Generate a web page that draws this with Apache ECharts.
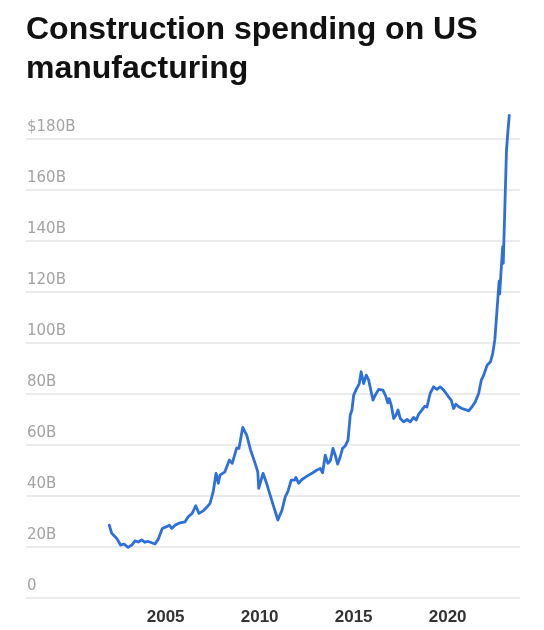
<!DOCTYPE html>
<html>
<head>
<meta charset="utf-8">
<script src="https://cdn.jsdelivr.net/npm/echarts@6/dist/echarts.min.js"></script>
<style>
html,body{margin:0;padding:0;background:#fff;}
#chart{width:544px;height:630px;}
</style>
</head>
<body>
<div id="chart"></div>
<script>
const titleText = 'Construction spending on US\nmanufacturing';
const years = [2002.0,2002.13,2002.4,2002.6,2002.78,2003.0,2003.2,2003.37,2003.55,2003.72,2003.9,2004.07,2004.26,2004.43,2004.6,2004.82,2005.05,2005.2,2005.32,2005.5,2005.76,2006.03,2006.2,2006.41,2006.6,2006.77,2007.0,2007.21,2007.36,2007.53,2007.68,2007.74,2007.8,2007.89,2008.15,2008.39,2008.54,2008.78,2008.9,2009.1,2009.31,2009.52,2009.76,2009.9,2009.95,2010.18,2010.37,2010.64,2010.97,2011.19,2011.36,2011.5,2011.68,2011.86,2011.93,2012.07,2012.25,2012.52,2012.78,2013.05,2013.23,2013.35,2013.49,2013.63,2013.76,2013.9,2014.02,2014.15,2014.29,2014.41,2014.55,2014.7,2014.82,2014.91,2015.0,2015.12,2015.3,2015.4,2015.53,2015.67,2015.8,2016.03,2016.15,2016.33,2016.56,2016.72,2016.82,2016.89,2017.0,2017.13,2017.25,2017.36,2017.48,2017.66,2017.84,2018.01,2018.19,2018.33,2018.46,2018.63,2018.78,2018.9,2019.07,2019.25,2019.43,2019.6,2019.79,2019.88,2020.05,2020.19,2020.32,2020.44,2020.59,2020.76,2020.94,2021.12,2021.3,2021.47,2021.65,2021.79,2021.92,2022.1,2022.28,2022.4,2022.51,2022.6,2022.68,2022.74,2022.77,2022.86,2022.93,2022.96,2023.06,2023.13,2023.2,2023.28];
const values = [28.4,25.2,23.2,20.6,21.0,19.7,20.6,22.2,21.8,22.6,21.7,22.0,21.5,21.0,22.8,27.1,27.8,28.4,27.1,28.4,29.3,29.7,31.7,33.0,36.0,33.0,34.0,35.6,36.9,41.5,48.7,49.3,44.8,48.0,49.3,53.9,52.6,58.7,58.5,66.7,63.7,57.8,52.6,49.3,42.8,48.7,44.8,38.2,30.4,34.3,39.5,41.5,46.0,46.0,47.1,44.8,46.3,47.6,48.7,50.0,50.6,48.9,55.8,52.6,53.6,58.5,55.8,52.3,55.2,58.5,59.4,61.7,71.5,73.5,79.3,81.3,83.9,88.5,83.9,87.2,85.2,77.4,79.3,81.6,81.3,78.7,76.3,78.0,75.4,70.2,71.5,73.5,70.2,68.9,69.8,68.9,70.6,69.6,71.9,73.5,75.0,74.7,80.0,82.6,81.6,82.6,81.3,81.6,78.7,77.4,74.1,75.8,74.8,74.1,73.7,73.2,74.8,76.7,80.0,85.2,87.2,91.1,92.4,95.7,101.0,110.0,118.0,124.0,119.0,130.0,137.5,131.0,157.0,175.0,182.0,189.0];
const xTickYears = [2005, 2010, 2015, 2020];
const yTickLabels = ['0','20B','40B','60B','80B','100B','120B','140B','160B','$180B'];

const chart = echarts.init(document.getElementById('chart'), null, {renderer: 'canvas'});
const seriesData = years.map((y, i) => [y, values[i]]);
chart.setOption({
  backgroundColor: '#ffffff',
  animation: false,
  title: {
    text: titleText,
    left: 21,
    top: 6,
    textStyle: {
      fontFamily: 'Liberation Sans',
      fontWeight: 'bold',
      fontSize: 32,
      lineHeight: 39,
      color: '#111111'
    }
  },
  grid: {left: 26, right: 24, top: 138.3, bottom: 32.4},
  xAxis: {
    type: 'value',
    min: 1997.57,
    max: 2023.85,
    axisLine: {show: false},
    axisTick: {show: false},
    splitLine: {show: false},
    axisLabel: {
      customValues: xTickYears,
      formatter: v => String(Math.round(v)),
      margin: 11,
      fontFamily: 'Liberation Sans',
      fontWeight: 'bold',
      fontSize: 17,
      color: '#333333'
    }
  },
  yAxis: {
    type: 'value',
    min: 0,
    max: 180,
    interval: 20,
    axisLine: {show: false},
    axisTick: {show: false},
    splitLine: {lineStyle: {color: '#e4e4e4', width: 1.5}},
    axisLabel: {
      inside: true,
      margin: 1,
      verticalAlign: 'bottom',
      padding: [0, 0, 4, 0],
      formatter: v => yTickLabels[Math.round(v / 20)],
      fontFamily: 'DejaVu Sans',
      fontSize: 15,
      color: '#a3a3a3'
    }
  },
  series: [{
    type: 'line',
    data: seriesData,
    clip: false,
    showSymbol: false,
    smooth: false,
    lineStyle: {color: '#2d6fdb', width: 2.8, join: 'round', cap: 'round'},
    itemStyle: {color: '#2d6fdb'}
  }]
});
</script>
</body>
</html>
